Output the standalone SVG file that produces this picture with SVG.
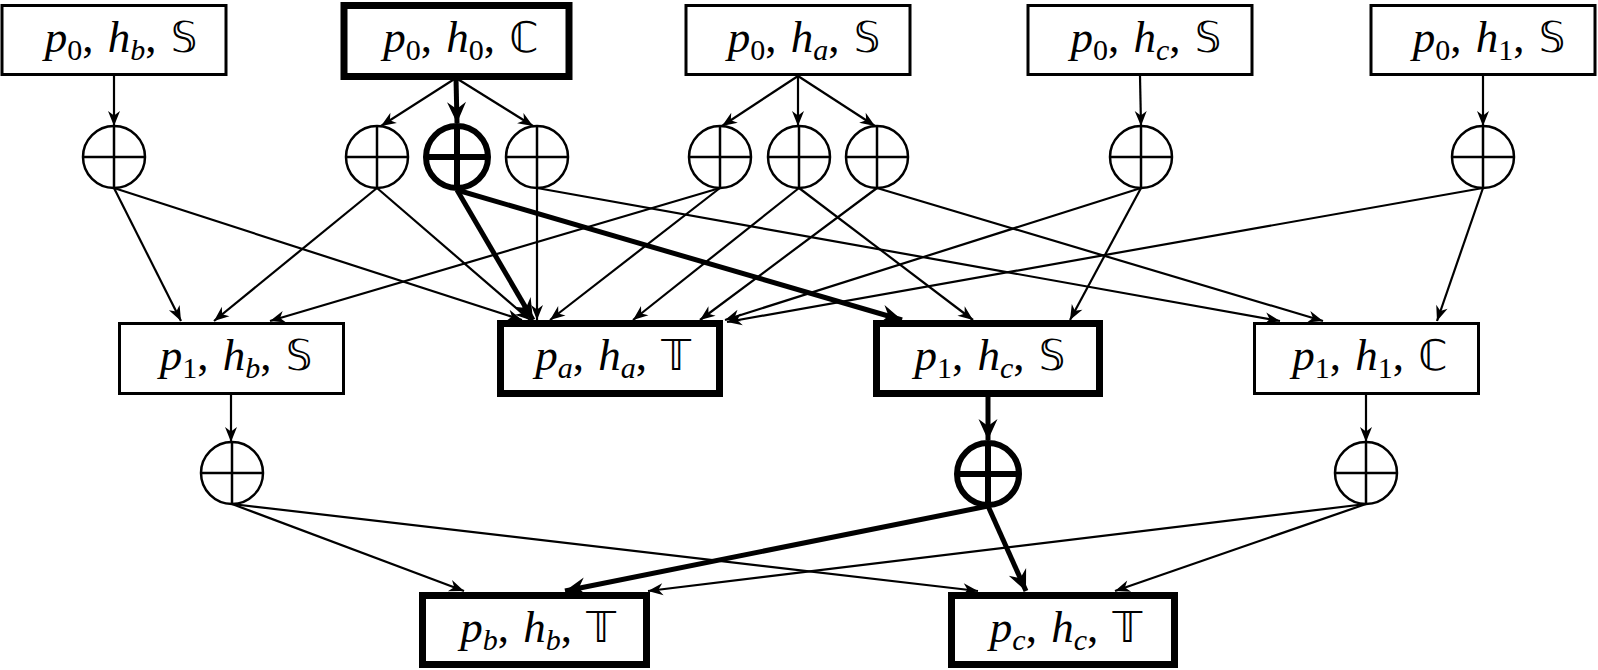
<svg xmlns="http://www.w3.org/2000/svg" width="1598" height="670" viewBox="0 0 1598 670">
<style>
.box{fill:#fff;stroke:#000;stroke-width:3}
.box.hl{stroke-width:7}
.op circle{fill:#fff;stroke:#000;stroke-width:2.5}
.op line{stroke:#000;stroke-width:2.5}
.op.hl circle,.op.hl line{stroke-width:6}
.e{stroke:#000;stroke-width:2.2;fill:none;marker-end:url(#ah)}
.e.hl{stroke-width:5;marker-end:url(#ahb)}
.t{font-family:"Liberation Serif","DejaVu Serif",serif;font-size:45px;fill:#000}
.i{font-style:italic}
.sub{font-size:30px}
.bb{font-family:"DejaVu Sans","Noto Sans",sans-serif;font-size:42px}
</style>
<defs>
<marker id="ah" viewBox="-17 -8 18 16" refX="0" refY="0" markerWidth="18" markerHeight="16" markerUnits="userSpaceOnUse" orient="auto">
<path d="M0,0 L-15,-6 L-10.5,0 L-15,6 Z" fill="#000"/>
</marker>
<marker id="ahb" viewBox="-23 -11 24 22" refX="0" refY="0" markerWidth="24" markerHeight="22" markerUnits="userSpaceOnUse" orient="auto">
<path d="M0,0 L-21,-9.5 L-14,0 L-21,9.5 Z" fill="#000"/>
</marker>
</defs>
<g id="connectors">
<line class="e" x1="114" y1="76" x2="114" y2="126"/>
<line class="e" x1="456" y1="78" x2="381" y2="126"/>
<line class="e hl" x1="456" y1="78" x2="457" y2="123"/>
<line class="e" x1="456" y1="78" x2="533" y2="126"/>
<line class="e" x1="798" y1="76" x2="722" y2="126"/>
<line class="e" x1="798" y1="76" x2="798" y2="126"/>
<line class="e" x1="798" y1="76" x2="875" y2="126"/>
<line class="e" x1="1140" y1="76" x2="1141" y2="126"/>
<line class="e" x1="1483" y1="76" x2="1483" y2="126"/>
<line class="e" x1="114" y1="188" x2="181" y2="321"/>
<line class="e" x1="114" y1="188" x2="522" y2="320"/>
<line class="e" x1="377" y1="188" x2="214" y2="321"/>
<line class="e" x1="377" y1="188" x2="530" y2="320"/>
<line class="e hl" x1="457" y1="190" x2="533" y2="320"/>
<line class="e hl" x1="457" y1="190" x2="902" y2="320"/>
<line class="e" x1="537" y1="188" x2="537" y2="320"/>
<line class="e" x1="537" y1="188" x2="1280" y2="321"/>
<line class="e" x1="720" y1="188" x2="270" y2="321"/>
<line class="e" x1="720" y1="188" x2="550" y2="320"/>
<line class="e" x1="799" y1="188" x2="633" y2="320"/>
<line class="e" x1="799" y1="188" x2="973" y2="320"/>
<line class="e" x1="877" y1="188" x2="700" y2="320"/>
<line class="e" x1="877" y1="188" x2="1323" y2="321"/>
<line class="e" x1="1141" y1="188" x2="725" y2="320"/>
<line class="e" x1="1141" y1="188" x2="1070" y2="320"/>
<line class="e" x1="1483" y1="188" x2="727" y2="322"/>
<line class="e" x1="1483" y1="188" x2="1437" y2="321"/>
<line class="e" x1="231" y1="395" x2="231" y2="442"/>
<line class="e hl" x1="988" y1="397" x2="988" y2="440"/>
<line class="e" x1="1366" y1="395" x2="1366" y2="442"/>
<line class="e" x1="232" y1="504" x2="464" y2="591"/>
<line class="e" x1="232" y1="504" x2="978" y2="591"/>
<line class="e hl" x1="988" y1="506" x2="565" y2="591"/>
<line class="e hl" x1="988" y1="506" x2="1026" y2="591"/>
<line class="e" x1="1366" y1="504" x2="648" y2="591"/>
<line class="e" x1="1366" y1="504" x2="1115" y2="591"/>
</g>
<g id="n_p0hbS"><rect class="box" x="2" y="5.5" width="224" height="69"/><text class="t" x="121" y="52" text-anchor="middle"><tspan class="i">p</tspan><tspan class="sub" dy="8">0</tspan><tspan dy="-8">, </tspan><tspan class="i" dx="3">h</tspan><tspan class="sub i" dy="8">b</tspan><tspan dy="-8">, </tspan><tspan class="bb" dx="3">𝕊</tspan></text></g>
<g id="n_p0h0C"><rect class="box hl" x="344" y="5.5" width="225" height="71"/><text class="t" x="461" y="52" text-anchor="middle"><tspan class="i">p</tspan><tspan class="sub" dy="8">0</tspan><tspan dy="-8">, </tspan><tspan class="i" dx="3">h</tspan><tspan class="sub" dy="8">0</tspan><tspan dy="-8">, </tspan><tspan class="bb" dx="3">ℂ</tspan></text></g>
<g id="n_p0haS"><rect class="box" x="686" y="5.5" width="224" height="69"/><text class="t" x="804" y="52" text-anchor="middle"><tspan class="i">p</tspan><tspan class="sub" dy="8">0</tspan><tspan dy="-8">, </tspan><tspan class="i" dx="3">h</tspan><tspan class="sub i" dy="8">a</tspan><tspan dy="-8">, </tspan><tspan class="bb" dx="3">𝕊</tspan></text></g>
<g id="n_p0hcS"><rect class="box" x="1028" y="5.5" width="224" height="69"/><text class="t" x="1146" y="52" text-anchor="middle"><tspan class="i">p</tspan><tspan class="sub" dy="8">0</tspan><tspan dy="-8">, </tspan><tspan class="i" dx="3">h</tspan><tspan class="sub i" dy="8">c</tspan><tspan dy="-8">, </tspan><tspan class="bb" dx="3">𝕊</tspan></text></g>
<g id="n_p0h1S"><rect class="box" x="1371" y="5.5" width="224" height="69"/><text class="t" x="1489" y="52" text-anchor="middle"><tspan class="i">p</tspan><tspan class="sub" dy="8">0</tspan><tspan dy="-8">, </tspan><tspan class="i" dx="3">h</tspan><tspan class="sub" dy="8">1</tspan><tspan dy="-8">, </tspan><tspan class="bb" dx="3">𝕊</tspan></text></g>
<g id="o1" class="op"><circle cx="114" cy="157" r="31"/><line x1="114" y1="126" x2="114" y2="188"/><line x1="83" y1="157" x2="145" y2="157"/></g>
<g id="o2" class="op"><circle cx="377" cy="157" r="31"/><line x1="377" y1="126" x2="377" y2="188"/><line x1="346" y1="157" x2="408" y2="157"/></g>
<g id="o3" class="op hl"><circle cx="457" cy="157" r="31"/><line x1="457" y1="126" x2="457" y2="188"/><line x1="426" y1="157" x2="488" y2="157"/></g>
<g id="o4" class="op"><circle cx="537" cy="157" r="31"/><line x1="537" y1="126" x2="537" y2="188"/><line x1="506" y1="157" x2="568" y2="157"/></g>
<g id="o5" class="op"><circle cx="720" cy="157" r="31"/><line x1="720" y1="126" x2="720" y2="188"/><line x1="689" y1="157" x2="751" y2="157"/></g>
<g id="o6" class="op"><circle cx="799" cy="157" r="31"/><line x1="799" y1="126" x2="799" y2="188"/><line x1="768" y1="157" x2="830" y2="157"/></g>
<g id="o7" class="op"><circle cx="877" cy="157" r="31"/><line x1="877" y1="126" x2="877" y2="188"/><line x1="846" y1="157" x2="908" y2="157"/></g>
<g id="o8" class="op"><circle cx="1141" cy="157" r="31"/><line x1="1141" y1="126" x2="1141" y2="188"/><line x1="1110" y1="157" x2="1172" y2="157"/></g>
<g id="o9" class="op"><circle cx="1483" cy="157" r="31"/><line x1="1483" y1="126" x2="1483" y2="188"/><line x1="1452" y1="157" x2="1514" y2="157"/></g>
<g id="n_p1hbS"><rect class="box" x="119.5" y="323.5" width="224" height="70"/><text class="t" x="236" y="370" text-anchor="middle"><tspan class="i">p</tspan><tspan class="sub" dy="8">1</tspan><tspan dy="-8">, </tspan><tspan class="i" dx="3">h</tspan><tspan class="sub i" dy="8">b</tspan><tspan dy="-8">, </tspan><tspan class="bb" dx="3">𝕊</tspan></text></g>
<g id="n_pahaT"><rect class="box hl" x="500.5" y="323.5" width="219" height="70"/><text class="t" x="613" y="370" text-anchor="middle"><tspan class="i">p</tspan><tspan class="sub i" dy="8">a</tspan><tspan dy="-8">, </tspan><tspan class="i" dx="3">h</tspan><tspan class="sub i" dy="8">a</tspan><tspan dy="-8">, </tspan><tspan class="bb" dx="3">𝕋</tspan></text></g>
<g id="n_p1hcS"><rect class="box hl" x="876.5" y="323.5" width="223" height="70"/><text class="t" x="990" y="370" text-anchor="middle"><tspan class="i">p</tspan><tspan class="sub" dy="8">1</tspan><tspan dy="-8">, </tspan><tspan class="i" dx="3">h</tspan><tspan class="sub i" dy="8">c</tspan><tspan dy="-8">, </tspan><tspan class="bb" dx="3">𝕊</tspan></text></g>
<g id="n_p1h1C"><rect class="box" x="1254.5" y="323.5" width="224" height="70"/><text class="t" x="1370" y="370" text-anchor="middle"><tspan class="i">p</tspan><tspan class="sub" dy="8">1</tspan><tspan dy="-8">, </tspan><tspan class="i" dx="3">h</tspan><tspan class="sub" dy="8">1</tspan><tspan dy="-8">, </tspan><tspan class="bb" dx="3">ℂ</tspan></text></g>
<g id="o10" class="op"><circle cx="232" cy="473" r="31"/><line x1="232" y1="442" x2="232" y2="504"/><line x1="201" y1="473" x2="263" y2="473"/></g>
<g id="o11" class="op hl"><circle cx="988" cy="474" r="31"/><line x1="988" y1="443" x2="988" y2="505"/><line x1="957" y1="474" x2="1019" y2="474"/></g>
<g id="o12" class="op"><circle cx="1366" cy="473" r="31"/><line x1="1366" y1="442" x2="1366" y2="504"/><line x1="1335" y1="473" x2="1397" y2="473"/></g>
<g id="n_pbhbT"><rect class="box hl" x="422.5" y="595.5" width="224" height="69"/><text class="t" x="538" y="642" text-anchor="middle"><tspan class="i">p</tspan><tspan class="sub i" dy="8">b</tspan><tspan dy="-8">, </tspan><tspan class="i" dx="3">h</tspan><tspan class="sub i" dy="8">b</tspan><tspan dy="-8">, </tspan><tspan class="bb" dx="3">𝕋</tspan></text></g>
<g id="n_pchcT"><rect class="box hl" x="951.5" y="595.5" width="223" height="69"/><text class="t" x="1066" y="642" text-anchor="middle"><tspan class="i">p</tspan><tspan class="sub i" dy="8">c</tspan><tspan dy="-8">, </tspan><tspan class="i" dx="3">h</tspan><tspan class="sub i" dy="8">c</tspan><tspan dy="-8">, </tspan><tspan class="bb" dx="3">𝕋</tspan></text></g>
</svg>
